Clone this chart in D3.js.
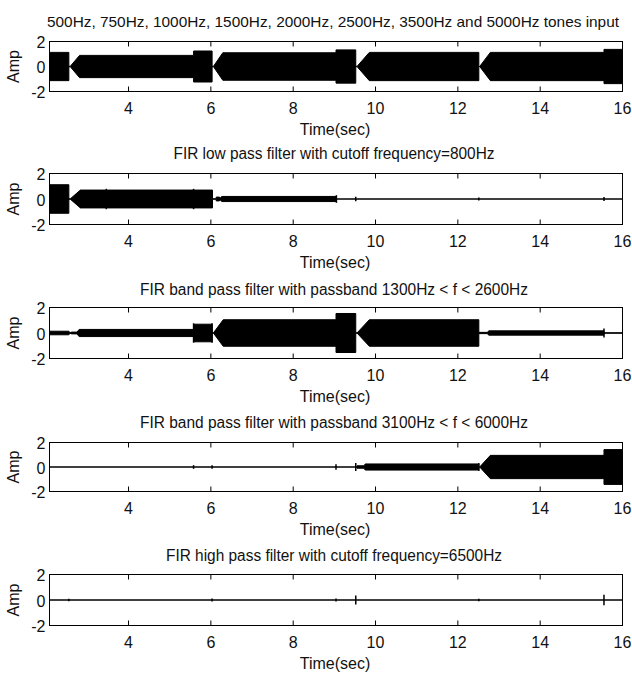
<!DOCTYPE html>
<html>
<head>
<meta charset="utf-8">
<script src="https://cdn.jsdelivr.net/npm/d3@7/dist/d3.min.js"></script>
<style>
  body { margin: 0; background: #fff; }
  text { font-family: "Liberation Sans", Arial, sans-serif; fill: #111; }
</style>
</head>
<body>
<svg id="chart" width="632" height="673"></svg>
<script>
// ---- Signal envelopes (time in seconds, half-amplitude) ----
// Input: eight tones played in sequence
const inputTime = [2.08, 2.55, 2.55, 2.58, 2.81, 5.58, 5.58, 6.03, 6.03, 6.06, 6.29, 9.04, 9.04, 9.52, 9.52, 9.55, 9.85, 12.51, 12.51, 12.53, 12.79, 15.55, 15.55, 16];
const inputAmp  = [1.13, 1.13, 0.05, 0, 0.89, 0.89, 1.24, 1.24, 0.05, 0, 1.1, 1.1, 1.33, 1.33, 0.05, 0, 1.13, 1.13, 0.05, 0, 1.13, 1.13, 1.37, 1.37];

// Low pass, cutoff 800 Hz
const lowTime = [2.08, 2.55, 2.55, 2.58, 2.83, 6.04, 6.04, 6.13, 6.13, 6.2, 6.23, 6.27, 9.05, 9.05, 16];
const lowAmp  = [1.12, 1.12, 0.05, 0, 0.7, 0.7, 0.02, 0.02, 0.15, 0.15, 0.1, 0.2, 0.2, 0, 0];
const lowSpikeTime = [3.46, 5.58, 9.05, 9.52, 12.51, 15.55];
const lowSpikeAmp  = [0.8, 0.8, 0.3, 0.17, 0.12, 0.15];

// Band pass, 1300 Hz < f < 2600 Hz
const band1Time = [2.08, 2.55, 2.58, 2.62, 2.75, 2.8, 5.58, 5.58, 6.03, 6.03, 6.06, 6.3, 9.04, 9.04, 9.52, 9.52, 9.55, 9.85, 12.51, 12.51, 12.72, 12.75, 15.55, 15.55, 16];
const band1Amp  = [0.14, 0.14, 0.03, 0.07, 0.07, 0.28, 0.28, 0.69, 0.69, 0.05, 0, 1.04, 1.04, 1.53, 1.53, 0.05, 0, 1.04, 1.04, 0.05, 0.05, 0.17, 0.17, 0.02, 0.02];
const band1SpikeTime = [5.58, 6.03, 15.55];
const band1SpikeAmp  = [0.76, 0.76, 0.35];

// Band pass, 3100 Hz < f < 6000 Hz
const band2Time = [2.08, 9.55, 9.55, 9.72, 9.75, 12.51, 12.51, 12.53, 12.79, 15.55, 15.55, 16];
const band2Amp  = [0, 0, 0.1, 0.1, 0.25, 0.25, 0.05, 0, 0.95, 0.95, 1.42, 1.42];
const band2SpikeTime = [5.58, 6.03, 9.04, 9.52, 12.51];
const band2SpikeAmp  = [0.15, 0.15, 0.23, 0.33, 0.32];

// High pass, cutoff 6500 Hz
const highTime = [2.08, 16];
const highAmp  = [0, 0];
const highSpikeTime = [2.55, 6.03, 9.04, 9.52, 12.51, 15.55];
const highSpikeAmp  = [0.1, 0.12, 0.12, 0.35, 0.1, 0.42];

// ---- Axes labels ----
const titles = [
  "500Hz, 750Hz, 1000Hz, 1500Hz, 2000Hz, 2500Hz, 3500Hz and 5000Hz tones input",
  "FIR low pass filter with cutoff frequency=800Hz",
  "FIR band pass filter with passband 1300Hz < f < 2600Hz",
  "FIR band pass filter with passband 3100Hz < f < 6000Hz",
  "FIR high pass filter with cutoff frequency=6500Hz"
];
const xTicks = [4, 6, 8, 10, 12, 14, 16];
const yTicks = [-2, 0, 2];
const xLabel = "Time(sec)";
const yLabel = "Amp";

const panels = [
  { t: inputTime, a: inputAmp, st: [], sa: [] },
  { t: lowTime, a: lowAmp, st: lowSpikeTime, sa: lowSpikeAmp },
  { t: band1Time, a: band1Amp, st: band1SpikeTime, sa: band1SpikeAmp },
  { t: band2Time, a: band2Amp, st: band2SpikeTime, sa: band2SpikeAmp },
  { t: highTime, a: highAmp, st: highSpikeTime, sa: highSpikeAmp }
];

// ---- Layout ----
const left = 49.5, right = 622.5;
const tops = [41.5, 173.5, 307.5, 442.5, 574.5];
const bottoms = [91.5, 224.5, 358.5, 491.5, 625.5];
const titleBase = [27, 158.5, 294.5, 427.5, 561];
const titleWidth = [572, 321, 388, 388, 336];
const titleX = [333, 334, 334, 334, 334];
const titleSize = [15, 16, 16, 16, 16];
const cx = 334;

const svg = d3.select("#chart");
const x = d3.scaleLinear().domain([2.08, 16]).range([left, right]);

panels.forEach((p, k) => {
  const top = tops[k], bottom = bottoms[k];
  const y = d3.scaleLinear().domain([-2, 2]).range([bottom, top]);
  const g = svg.append("g");

  // signal envelope
  const idx = d3.range(p.t.length);
  const area = d3.area()
    .x(i => x(p.t[i]))
    .y0(i => y(-p.a[i]))
    .y1(i => y(p.a[i]));
  g.append("path")
    .attr("d", area(idx))
    .attr("fill", "#000")
    .attr("stroke", "#000")
    .attr("stroke-width", 1);

  // short transients at tone changes
  g.selectAll("line.spike").data(d3.range(p.st.length)).join("line")
    .attr("class", "spike")
    .attr("x1", i => x(p.st[i])).attr("x2", i => x(p.st[i]))
    .attr("y1", i => y(-p.sa[i])).attr("y2", i => y(p.sa[i]))
    .attr("stroke", "#000").attr("stroke-width", 1.5);

  // box
  g.append("rect")
    .attr("x", left).attr("y", top)
    .attr("width", right - left).attr("height", bottom - top)
    .attr("fill", "none").attr("stroke", "#000").attr("stroke-width", 1);

  // inward ticks on top and bottom
  xTicks.forEach(v => {
    g.append("line").attr("x1", x(v)).attr("x2", x(v))
      .attr("y1", bottom).attr("y2", bottom - 5).attr("stroke", "#000");
    g.append("line").attr("x1", x(v)).attr("x2", x(v))
      .attr("y1", top).attr("y2", top + 5).attr("stroke", "#000");
  });

  // x tick labels
  g.selectAll("text.xt").data(xTicks).join("text")
    .attr("class", "xt")
    .attr("x", d => x(d)).attr("y", bottom + 22)
    .attr("text-anchor", "middle")
    .style("font-size", "16px")
    .text(d => d);

  // y tick labels
  g.selectAll("text.yt").data(yTicks).join("text")
    .attr("class", "yt")
    .attr("x", 45.5).attr("y", d => y(d) + 6.5)
    .attr("text-anchor", "end")
    .style("font-size", "16px")
    .text(d => d);

  // y label
  g.append("text")
    .attr("transform", `translate(19,${(top + bottom) / 2}) rotate(-90)`)
    .attr("text-anchor", "middle")
    .style("font-size", "16px")
    .text(yLabel);

  // x label
  g.append("text")
    .attr("x", cx + 1).attr("y", bottom + 43)
    .attr("text-anchor", "middle")
    .style("font-size", "16px")
    .text(xLabel);

  // title
  g.append("text")
    .attr("x", titleX[k]).attr("y", titleBase[k])
    .attr("text-anchor", "middle")
    .attr("textLength", titleWidth[k])
    .attr("lengthAdjust", "spacingAndGlyphs")
    .style("font-size", titleSize[k] + "px")
    .text(titles[k]);
});
</script>
</body>
</html>
